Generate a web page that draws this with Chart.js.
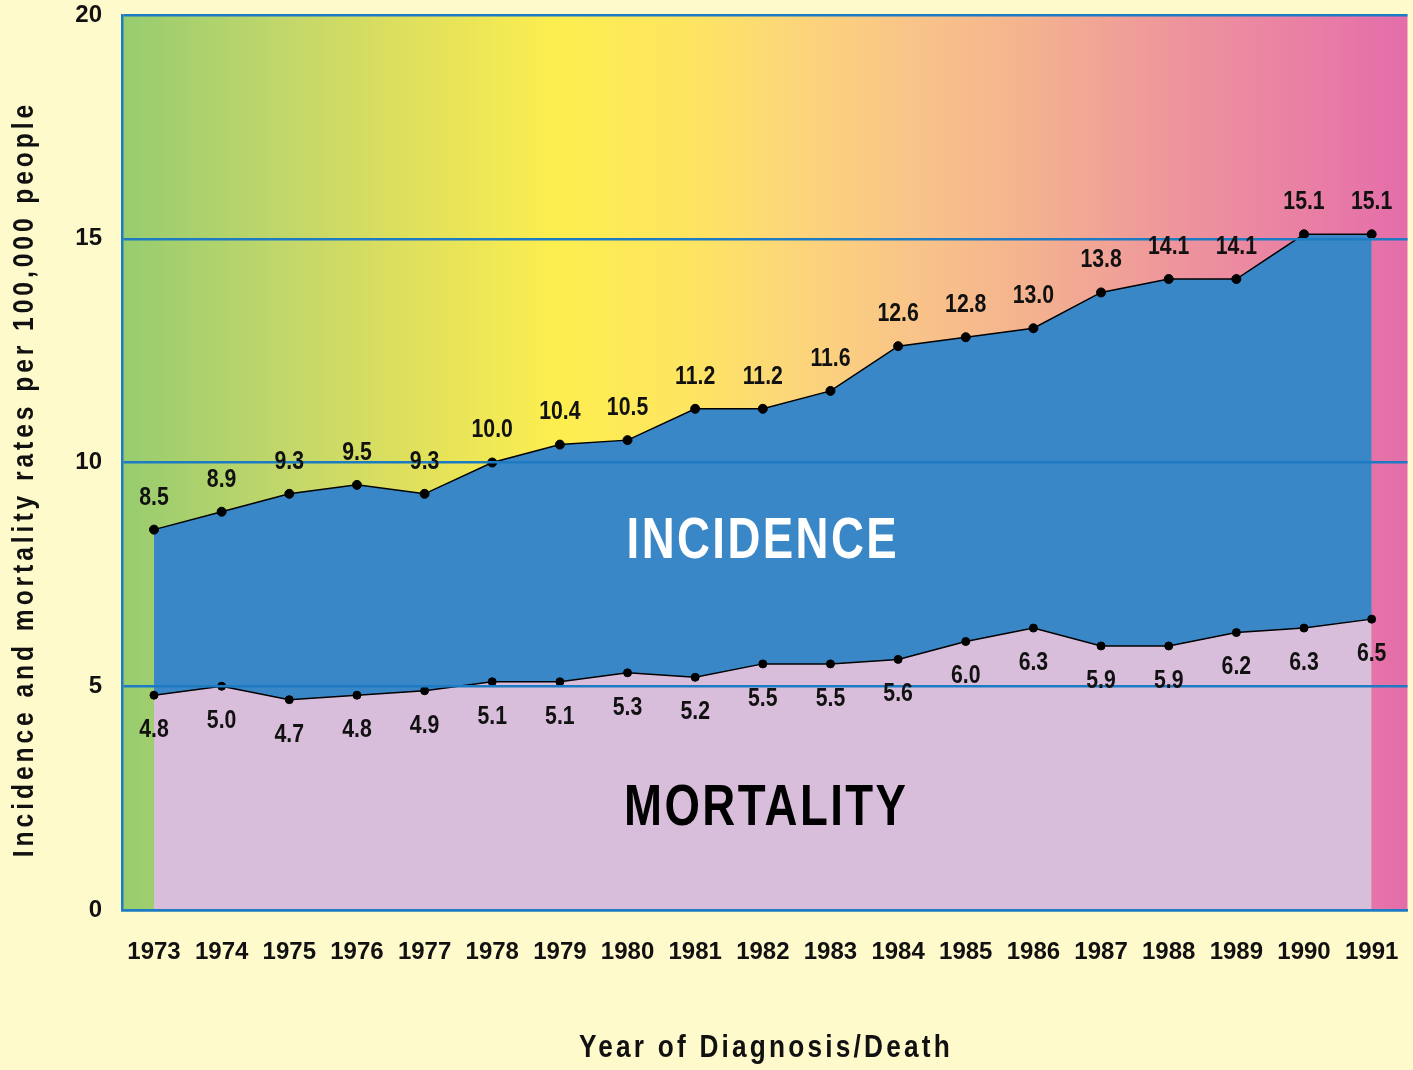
<!DOCTYPE html>
<html>
<head>
<meta charset="utf-8">
<script src="https://cdn.jsdelivr.net/npm/chart.js@4.4.1/dist/chart.umd.min.js"></script>
<style>
  html, body { margin: 0; padding: 0; background: #fffacc; }
  #wrap { width: 1413px; height: 1070px; }
</style>
</head>
<body>
<div id="wrap"><canvas id="rateChart"></canvas></div>
<script>
const years = [1973, 1974, 1975, 1976, 1977, 1978, 1979, 1980, 1981, 1982,
  1983, 1984, 1985, 1986, 1987, 1988, 1989, 1990, 1991];
const incidence = [8.5, 8.9, 9.3, 9.5, 9.3, 10.0, 10.4, 10.5, 11.2, 11.2,
  11.6, 12.6, 12.8, 13.0, 13.8, 14.1, 14.1, 15.1, 15.1];
const mortality = [4.8, 5.0, 4.7, 4.8, 4.9, 5.1, 5.1, 5.3, 5.2, 5.5,
  5.5, 5.6, 6.0, 6.3, 5.9, 5.9, 6.2, 6.3, 6.5];
const yTicks = [0, 5, 10, 15, 20];

const FONT = "'Liberation Sans', Arial, sans-serif";
const BLUE = '#1c7bc2';

// squeezed text, to get close to the condensed face of the original
function narrowText(ctx, str, x, y, sx) {
  ctx.save();
  ctx.translate(x, y);
  ctx.scale(sx, 1);
  ctx.fillText(str, 0, 0);
  ctx.restore();
}

// page colour + rainbow inside the plot
const backdrop = {
  id: 'backdrop',
  beforeDraw(chart) {
    const { ctx, chartArea: a } = chart;
    ctx.save();
    ctx.fillStyle = '#fffacc';
    ctx.fillRect(0, 0, chart.width, chart.height);
    const g = ctx.createLinearGradient(a.left, 0, a.right, 0);
    [[0, '#97cc6f'], [0.128, '#c2d76a'], [0.224, '#dfe05d'], [0.339, '#fdee4f'],
     [0.447, '#fee462'], [0.511, '#fcd877'], [0.613, '#f9c489'], [0.703, '#f4b38f'],
     [0.832, '#ed929d'], [0.927, '#e97ea5'], [1, '#e46daa']].forEach(s => g.addColorStop(s[0], s[1]));
    ctx.fillStyle = g;
    ctx.fillRect(a.left, a.top, a.right - a.left, a.bottom - a.top);
    ctx.restore();
  }
};

// value labels, area names and axis titles
const labels = {
  id: 'labels',
  afterDraw(chart) {
    const ctx = chart.ctx;
    const xs = chart.scales.x, ys = chart.scales.y;
    ctx.save();
    ctx.fillStyle = '#111';
    ctx.textAlign = 'center';
    ctx.textBaseline = 'middle';
    ctx.font = 'bold 25px ' + FONT;
    chart.getDatasetMeta(0).data.forEach((p, i) => {
      narrowText(ctx, incidence[i].toFixed(1), p.x, p.y - 32, 0.85);
    });
    chart.getDatasetMeta(1).data.forEach((p, i) => {
      narrowText(ctx, mortality[i].toFixed(1), p.x, p.y + 35, 0.85);
    });

    ctx.font = 'bold 57px ' + FONT;
    ctx.letterSpacing = '3px';
    ctx.fillStyle = '#ffffff';
    narrowText(ctx, 'INCIDENCE', xs.getPixelForValue(1982), ys.getPixelForValue(8.22), 0.8);
    ctx.fillStyle = '#000000';
    narrowText(ctx, 'MORTALITY', xs.getPixelForValue(1982.05), ys.getPixelForValue(2.25), 0.8);

    ctx.fillStyle = '#111';
    ctx.font = 'bold 32px ' + FONT;
    ctx.letterSpacing = '3.9px';
    narrowText(ctx, 'Year of Diagnosis/Death', 766, 1048, 0.82);
    ctx.font = 'bold 30px ' + FONT;
    ctx.letterSpacing = '4.8px';
    ctx.translate(25, 479);
    ctx.rotate(-Math.PI / 2);
    narrowText(ctx, 'Incidence and mortality rates per 100,000 people', 0, 0, 0.82);
    ctx.restore();
  }
};

new Chart(document.getElementById('rateChart'), {
  type: 'line',
  data: {
    datasets: [{
      label: 'Incidence',
      data: years.map((y, i) => ({ x: y, y: incidence[i] })),
      borderColor: '#000',
      borderWidth: 1.5,
      backgroundColor: '#3a87c7',
      pointBackgroundColor: '#000',
      pointBorderColor: '#000',
      pointBorderWidth: 1,
      pointRadius: 4.5,
      fill: 1,
      tension: 0
    }, {
      label: 'Mortality',
      data: years.map((y, i) => ({ x: y, y: mortality[i] })),
      borderColor: '#000',
      borderWidth: 1.5,
      backgroundColor: '#d9bedc',
      pointBackgroundColor: '#000',
      pointBorderColor: '#000',
      pointBorderWidth: 1,
      pointRadius: 4,
      fill: 'origin',
      tension: 0
    }]
  },
  options: {
    responsive: true,
    maintainAspectRatio: false,
    animation: false,
    layout: { padding: { top: 15, right: 3, left: 0, bottom: 0 } },
    plugins: {
      legend: { display: false },
      tooltip: { enabled: false },
      filler: { drawTime: 'beforeDatasetsDraw' }
    },
    scales: {
      x: {
        type: 'linear',
        min: 1972.527,
        max: 1991.53,
        afterBuildTicks: s => { s.ticks = years.map(v => ({ value: v })); },
        afterFit: s => { s.height = 160; s.paddingLeft = 0; s.paddingRight = 0; },
        grid: { display: false, drawTicks: false },
        border: { display: true, color: BLUE, width: 2.5, z: 1 },
        ticks: {
          autoSkip: false,
          maxRotation: 0,
          padding: 28,
          color: '#111',
          font: { family: FONT, size: 24, weight: 'bold' },
          callback: v => String(v)
        }
      },
      y: {
        min: 0,
        max: 20,
        afterBuildTicks: s => { s.ticks = yTicks.map(v => ({ value: v })); },
        afterFit: s => { s.width = 122; s.paddingTop = 0; s.paddingBottom = 0; },
        grid: { color: BLUE, lineWidth: 2.5, drawTicks: false, z: 1 },
        border: { display: true, color: BLUE, width: 2.5, z: 1 },
        ticks: {
          padding: 20,
          color: '#111',
          font: { family: FONT, size: 24, weight: 'bold' }
        }
      }
    }
  },
  plugins: [backdrop, labels]
});
</script>
</body>
</html>
